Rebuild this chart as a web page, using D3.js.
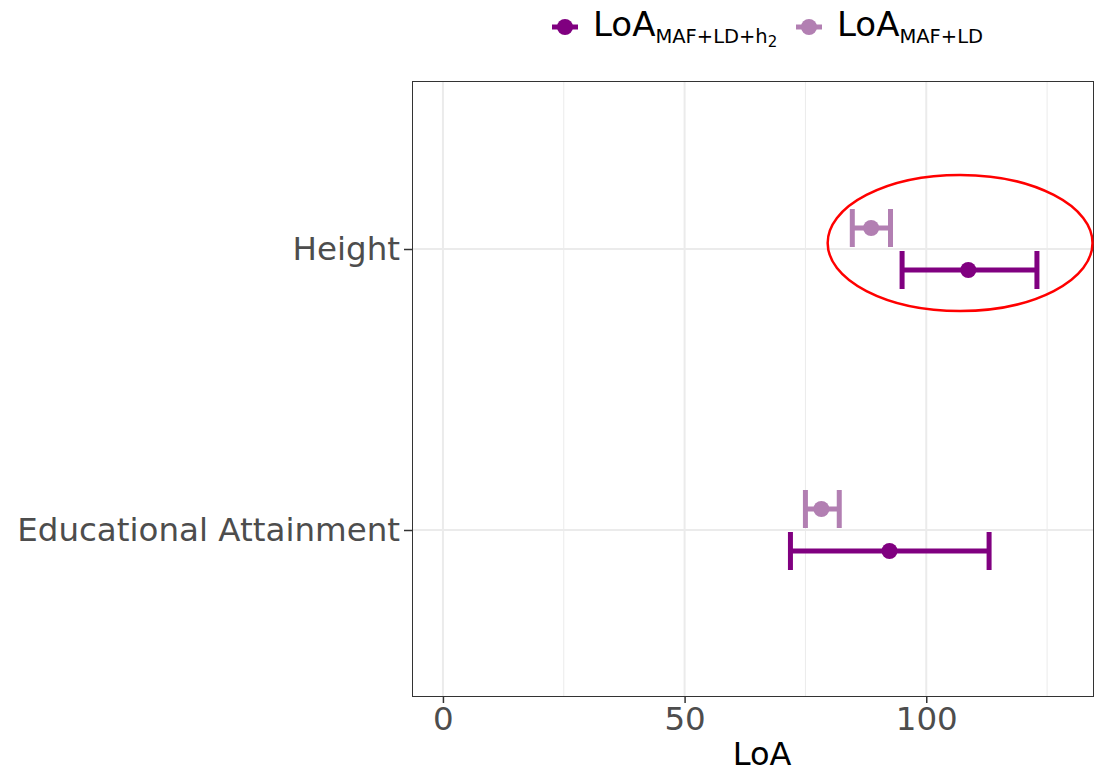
<!DOCTYPE html>
<html>
<head>
<meta charset="utf-8">
<script src="https://cdn.jsdelivr.net/npm/d3@7"></script>
<style>
body { margin: 0; background: #fff; }
svg { font-family: "DejaVu Sans", sans-serif; }
</style>
</head>
<body>
<div class="svg-container"></div>
<script>
var traits = ["Height", "Educational Attainment"];
var series = ["h2", "ld"];
var seriesColor = {h2: "#800080", ld: "#b27fb2"};

// estimate, lower, upper
var loaH2 = [[108.7, 95.0, 122.9], [92.4, 71.9, 113.0]];
var loaLD = [[88.6, 84.7, 92.6], [78.3, 75.0, 82.0]];
var xTicks = [0, 50, 100];
var xMinor = [25, 75, 125];

var w = 1094, h = 773;
var pLeft = 412, pRight = 1093, pTop = 81, pBottom = 696;

var svg = d3.select(".svg-container").append("svg")
    .attr("width", w).attr("height", h);

var x = d3.scaleLinear().domain([-6.4, 134.5]).range([pLeft, pRight]);
var y = d3.scalePoint().domain(traits).range([249, 530]);
var dodge = 21;

// grid
svg.append("g").selectAll("line.minor").data(xMinor).enter().append("line")
    .attr("x1", function(d) { return x(d); }).attr("x2", function(d) { return x(d); })
    .attr("y1", pTop).attr("y2", pBottom)
    .attr("stroke", "#ebebeb").attr("stroke-width", 1);
svg.append("g").selectAll("line.major").data(xTicks).enter().append("line")
    .attr("x1", function(d) { return x(d); }).attr("x2", function(d) { return x(d); })
    .attr("y1", pTop).attr("y2", pBottom)
    .attr("stroke", "#ebebeb").attr("stroke-width", 2);
svg.append("g").selectAll("line.hgrid").data(traits).enter().append("line")
    .attr("x1", pLeft).attr("x2", pRight)
    .attr("y1", function(d) { return y(d); }).attr("y2", function(d) { return y(d); })
    .attr("stroke", "#ebebeb").attr("stroke-width", 2);

function drawSeries(data, key, offset) {
    var col = seriesColor[key];
    var g = svg.append("g");
    data.forEach(function(d, i) {
        var yy = y(traits[i]) + offset;
        var cap = 19;
        g.append("line").attr("x1", x(d[1])).attr("x2", x(d[2]))
            .attr("y1", yy).attr("y2", yy)
            .attr("stroke", col).attr("stroke-width", 5);
        [d[1], d[2]].forEach(function(v) {
            g.append("line").attr("x1", x(v)).attr("x2", x(v))
                .attr("y1", yy - cap).attr("y2", yy + cap)
                .attr("stroke", col).attr("stroke-width", 5);
        });
        g.append("circle").attr("cx", x(d[0])).attr("cy", yy).attr("r", 8)
            .attr("fill", col);
    });
}
drawSeries(loaLD, "ld", -dodge);
drawSeries(loaH2, "h2", dodge);

// panel border
svg.append("rect").attr("x", pLeft + 0.5).attr("y", pTop + 0.5)
    .attr("width", pRight - pLeft).attr("height", pBottom - pTop)
    .attr("fill", "none").attr("stroke", "#333").attr("stroke-width", 1);

// axes
var xAxis = svg.append("g").attr("transform", "translate(0," + pBottom + ")")
    .call(d3.axisBottom(x).tickValues(xTicks).tickSize(7).tickPadding(4));
xAxis.select(".domain").remove();
xAxis.selectAll("line").attr("stroke", "#333").attr("stroke-width", 1.5);
xAxis.selectAll("text").attr("font-size", 32.5).attr("fill", "#4d4d4d")
    .attr("font-family", "DejaVu Sans, sans-serif");

var yAxis = svg.append("g").attr("transform", "translate(" + pLeft + ",0)")
    .call(d3.axisLeft(y).tickSize(8).tickPadding(4));
yAxis.select(".domain").remove();
yAxis.selectAll("line").attr("stroke", "#333").attr("stroke-width", 1.5);
yAxis.selectAll("text").attr("font-size", 32.5).attr("fill", "#4d4d4d")
    .attr("font-family", "DejaVu Sans, sans-serif");

svg.append("text").attr("x", 762).attr("y", 765)
    .attr("text-anchor", "middle").attr("font-size", 32).attr("fill", "#000")
    .text("LoA");

// annotation ellipse
svg.append("ellipse")
    .attr("cx", x(107)).attr("cy", y("Height") - 6)
    .attr("rx", x(134.4) - x(107)).attr("ry", 68)
    .attr("fill", "none").attr("stroke", "#ff0000").attr("stroke-width", 2.5);

// legend
var legendItems = [
    {key: "h2", x: 552, sub: "MAF+LD+h", sub2: "2"},
    {key: "ld", x: 796, sub: "MAF+LD", sub2: null}
];
var legend = svg.append("g");
legendItems.forEach(function(it) {
    var g = legend.append("g").attr("transform", "translate(" + it.x + ",27)");
    g.append("line").attr("x1", 0).attr("x2", 26).attr("y1", 0).attr("y2", 0)
        .attr("stroke", seriesColor[it.key]).attr("stroke-width", 5);
    g.append("circle").attr("cx", 13).attr("cy", 0).attr("r", 8)
        .attr("fill", seriesColor[it.key]);
    var t = g.append("text").attr("x", 41).attr("y", 9).attr("font-size", 34).attr("fill", "#000");
    t.append("tspan").text("LoA");
    t.append("tspan").attr("font-size", 19.5).attr("dy", 7).text(it.sub);
    if (it.sub2) t.append("tspan").attr("font-size", 15).attr("dy", 4).text(it.sub2);
});
</script>
</body>
</html>
